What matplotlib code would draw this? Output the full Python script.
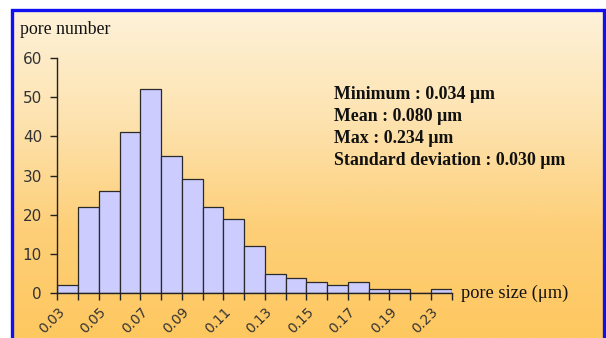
import numpy as np
import matplotlib
matplotlib.use("Agg")
import matplotlib.pyplot as plt
from matplotlib.patches import Rectangle
from matplotlib.colors import LinearSegmentedColormap

# ---- data ----
bin_counts = [2, 22, 26, 41, 52, 35, 29, 22, 19, 12, 5, 4, 3, 2, 3, 1, 1, 0, 1]
tick_labels = ["0.03", "", "0.05", "", "0.07", "", "0.09", "", "0.11", "",
               "0.13", "", "0.15", "", "0.17", "", "0.19", "", "0.23", ""]
y_ticks = [0, 10, 20, 30, 40, 50, 60]
stats_lines = ["Minimum : 0.034 \u03bcm", "Mean : 0.080 \u03bcm",
               "Max : 0.234 \u03bcm", "Standard deviation : 0.030 \u03bcm"]
y_title = "pore number"
x_title = "pore size (\u03bcm)"

W, H = 606, 338
fig = plt.figure(figsize=(W / 100, H / 100), dpi=100)
fig.patch.set_facecolor("white")

# gradient background inside the frame
bx0, bx1, by0 = 12, 603.5, 9.5
bg = fig.add_axes([bx0 / W, 0, (bx1 - bx0) / W, 1 - by0 / H])
bg.set_axis_off()
cmap = LinearSegmentedColormap.from_list("bg", ["#FEF2DA", "#FDE3B0", "#FDCF78", "#FFC860"])
grad = np.linspace(0, 1, 256).reshape(-1, 1)
bg.imshow(grad, aspect="auto", cmap=cmap, extent=[0, 1, 0, 1], origin="upper")
bg.set_xlim(0, 1); bg.set_ylim(0, 1)

# blue frame
fig.patches.append(Rectangle((bx0 / W, -0.05), (bx1 - bx0) / W, 1.05 - by0 / H,
                             transform=fig.transFigure, fill=False,
                             edgecolor="#1010F0", linewidth=2.4, zorder=10))

# main axes
x0, x1, ytop, ybot = 57.3, 451.7, 57.7, 293.3
ax = fig.add_axes([x0 / W, 1 - ybot / H, (x1 - x0) / W, (ybot - ytop) / H])
ax.patch.set_alpha(0)
edges = np.arange(len(bin_counts))
ax.bar(edges, bin_counts, width=1.0, align="edge", color="#CCCCFF",
       edgecolor="#2a2a2a", linewidth=0.9, zorder=3)
ax.set_xlim(0, len(bin_counts))
ax.set_ylim(0, 60)
for s in ["top", "right"]:
    ax.spines[s].set_visible(False)
for s in ["left", "bottom"]:
    ax.spines[s].set_color("#222222")
    ax.spines[s].set_linewidth(1.0)
    ax.spines[s].set_zorder(4)

ax.set_yticks(y_ticks)
ax.set_yticklabels([str(v) for v in y_ticks], fontsize=11, color="#333333",
                   family="DejaVu Sans")
ax.set_xticks(np.arange(len(tick_labels)))
ax.set_xticklabels(tick_labels, rotation=45, ha="right", rotation_mode="anchor",
                   fontsize=9.8, color="#333333", family="DejaVu Sans")
ax.tick_params(axis="y", direction="out", length=5, width=1, color="#222222", pad=6)
ax.tick_params(axis="x", direction="out", length=5, width=1, color="#222222", pad=3)

# titles
fig.text(20 / W, 1 - 30 / H, y_title, fontsize=12.8, family="Liberation Serif",
         va="center", ha="left", color="#111111")
fig.text(461 / W, 1 - 293 / H, x_title, fontsize=13.2, family="Liberation Serif",
         va="center", ha="left", color="#111111")

# stats text
for i, line in enumerate(stats_lines):
    fig.text(334 / W, 1 - (94.5 + 22 * i) / H, line, fontsize=12.9,
             family="Liberation Serif", fontweight="bold", va="center",
             ha="left", color="#111111")

fig.savefig("out.png", dpi=100)
